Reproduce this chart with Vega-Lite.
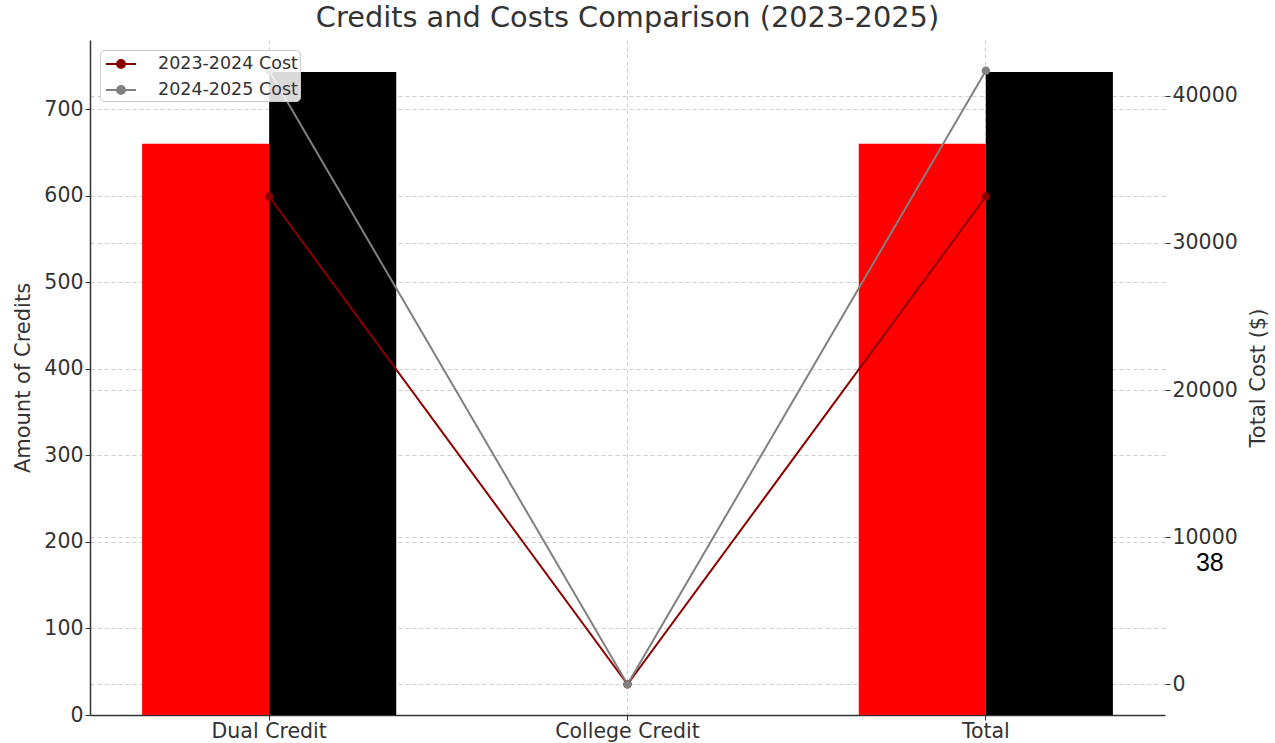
{
  "$schema": "https://vega.github.io/schema/vega-lite/v6.json",
  "autosize": {"type": "none"},
  "width": 1075,
  "height": 675,
  "padding": {"left": 90, "top": 40, "right": 110, "bottom": 28},
  "background": "white",
  "title": {
    "text": "Credits and Costs Comparison (2023-2025)",
    "font": "DejaVu Sans",
    "fontSize": 28.8,
    "fontWeight": "normal",
    "color": "#333333",
    "offset": 7
  },
  "config": {
    "font": "DejaVu Sans",
    "view": {"stroke": null},
    "axis": {
      "labelFont": "DejaVu Sans",
      "labelFontSize": 20.5,
      "labelColor": "#333333",
      "titleFont": "DejaVu Sans",
      "titleFontSize": 21,
      "titleFontWeight": "normal",
      "titleColor": "#333333",
      "tickColor": "#333333",
      "tickSize": 5,
      "domainColor": "#333333",
      "domainWidth": 1.5,
      "gridColor": "#cfcfcf",
      "gridDash": [4, 3],
      "gridWidth": 1
    }
  },
  "datasets": {
    "credits": [
      {"category": "Dual Credit", "year": "2023-2024", "credits": 660, "cost": 33150},
      {"category": "Dual Credit", "year": "2024-2025", "credits": 743, "cost": 41700},
      {"category": "College Credit", "year": "2023-2024", "credits": 0, "cost": 0},
      {"category": "College Credit", "year": "2024-2025", "credits": 0, "cost": 0},
      {"category": "Total", "year": "2023-2024", "credits": 660, "cost": 33150},
      {"category": "Total", "year": "2024-2025", "credits": 743, "cost": 41700}
    ],
    "note": [
      {"category": "Total", "cost": 8270, "label": "38"}
    ]
  },
  "layer": [
    {
      "data": {"name": "credits"},
      "mark": {"type": "bar"},
      "encoding": {
        "x": {
          "field": "category",
          "type": "nominal",
          "sort": ["Dual Credit", "College Credit", "Total"],
          "scale": {"paddingInner": 0, "paddingOuter": 0},
          "axis": {
            "title": null,
            "labelAngle": 0,
            "bandPosition": 0.5,
            "grid": true,
            "ticks": true,
            "labelPadding": 1
          }
        },
        "xOffset": {
          "field": "year",
          "type": "nominal",
          "scale": {"paddingInner": 0, "paddingOuter": 0.41}
        },
        "y": {
          "field": "credits",
          "type": "quantitative",
          "scale": {"domain": [0, 780], "nice": false, "zero": true},
          "axis": {
            "title": "Amount of Credits",
            "orient": "left",
            "values": [0, 100, 200, 300, 400, 500, 600, 700],
            "grid": true,
            "titlePadding": 10
          }
        },
        "color": {
          "field": "year",
          "type": "nominal",
          "scale": {"domain": ["2023-2024", "2024-2025"], "range": ["#ff0000", "#000000"]},
          "legend": null
        }
      }
    },
    {
      "layer": [
        {
          "data": {"name": "credits"},
          "mark": {
            "type": "line",
            "strokeWidth": 2,
            "point": {"filled": true, "size": 70}
          },
          "encoding": {
            "x": {
              "field": "category",
              "type": "nominal",
              "sort": ["Dual Credit", "College Credit", "Total"],
              "bandPosition": 0.5
            },
            "y": {
              "field": "cost",
              "type": "quantitative",
              "scale": {"domain": [-2085, 43785], "nice": false, "zero": false},
              "axis": {
                "title": "Total Cost ($)",
                "orient": "right",
                "values": [0, 10000, 20000, 30000, 40000],
                "format": "d",
                "grid": true,
                "domain": false,
                "titleAngle": 270,
                "titlePadding": 31
              }
            },
            "color": {
              "field": "year",
              "type": "nominal",
              "scale": {"domain": ["2023-2024", "2024-2025"], "range": ["#8b0000", "#808080"]},
              "legend": {
                "title": null,
                "orient": "none",
                "legendX": 10,
                "legendY": 10,
                "padding": 2,
                "fillColor": "rgba(255,255,255,0.85)",
                "strokeColor": "#cccccc",
                "cornerRadius": 4,
                "labelFont": "DejaVu Sans",
                "labelFontSize": 17.5,
                "labelColor": "#333333",
                "labelOffset": 32,
                "rowPadding": 5,
                "symbolType": "M-0.73,0H2M1,0A0.36,0.36 0 1,1 0.28,0A0.36,0.36 0 1,1 1,0M0.82,0A0.18,0.18 0 1,1 0.46,0A0.18,0.18 0 1,1 0.82,0",
                "symbolSize": 484,
                "symbolStrokeWidth": 2,
                "labelExpr": "datum.label + ' Cost'"
              }
            }
          }
        },
        {
          "data": {"name": "note"},
          "mark": {
            "type": "text",
            "font": "Liberation Sans",
            "fontSize": 25,
            "color": "#000000",
            "dx": 224,
            "align": "center",
            "baseline": "middle"
          },
          "encoding": {
            "x": {
              "field": "category",
              "type": "nominal",
              "sort": ["Dual Credit", "College Credit", "Total"],
              "bandPosition": 0.5
            },
            "y": {"field": "cost", "type": "quantitative"},
            "text": {"field": "label"}
          }
        }
      ]
    }
  ],
  "resolve": {"scale": {"y": "independent", "color": "independent"}}
}
